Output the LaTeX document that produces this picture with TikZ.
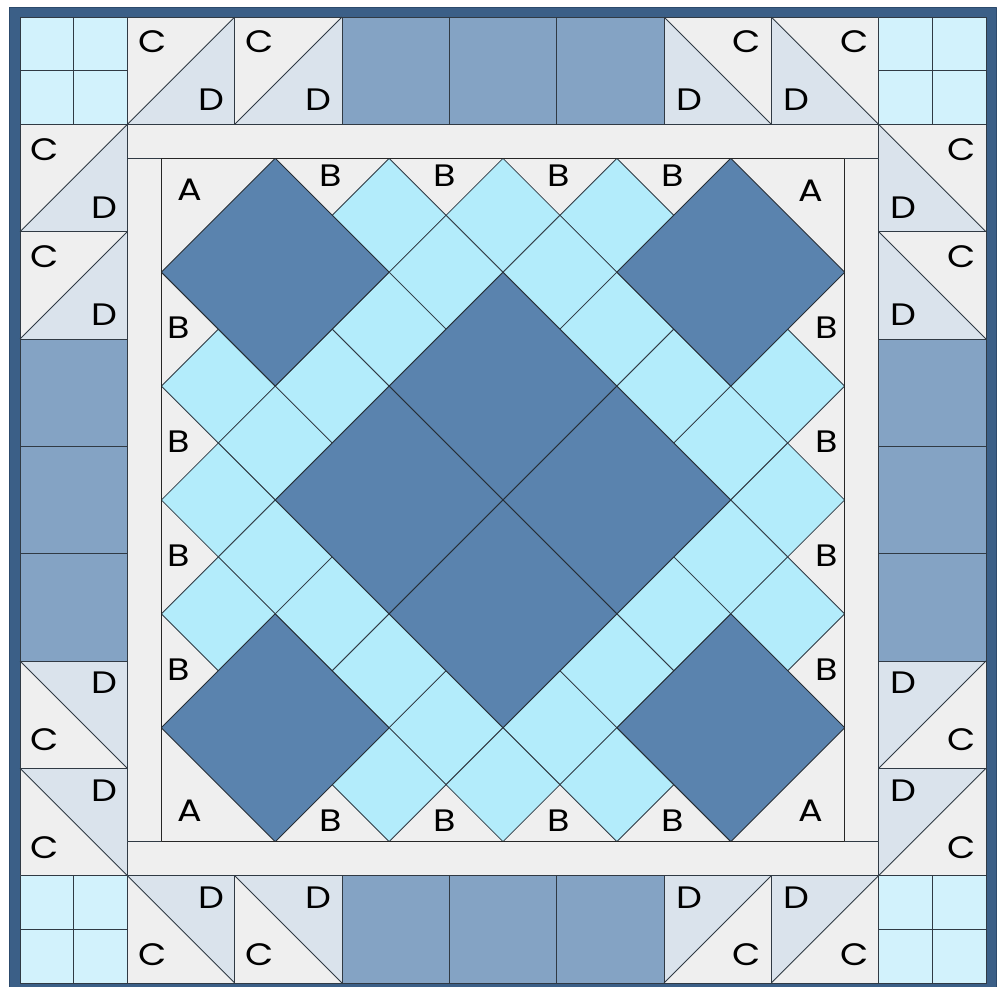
\documentclass[tikz,border=0pt]{standalone}
\usepackage{fontspec}
\newfontfamily\labfont[FakeStretch=1.18]{Poppins}
\definecolor{framec}{HTML}{3B5F87}
\definecolor{framedk}{HTML}{2C4A6C}
\definecolor{bgc}{HTML}{EFEFEF}
\definecolor{dtri}{HTML}{DAE3EC}
\definecolor{rectc}{HTML}{84A3C4}
\definecolor{patchc}{HTML}{D2F2FC}
\definecolor{cyanc}{HTML}{B3ECFB}
\definecolor{darkc}{HTML}{5A83AE}
\definecolor{seamc}{HTML}{303A44}
\tikzset{
  seam/.style={draw=seamc, line width=0.9pt},
  lab/.style={font=\labfont\fontsize{31}{31}\selectfont, text=black, inner sep=0pt},
  smallsq/.style={fill=cyanc, draw=seamc, line width=0.8pt},
  bigsq/.style={fill=darkc, draw=seamc!80!black, line width=0.9pt},
}
\def\sz{107.333}
\begin{document}
\begin{tikzpicture}[x=1pt,y=-1pt,line join=round]
\useasboundingbox (0,0) rectangle (1002,987);
\clip (0,0) rectangle (1002,987);
\fill[white] (0,0) rectangle (1002,987);
% frame
\filldraw[fill=framec, draw=framedk, line width=1pt] (9.5,7.5) rectangle (996,993);
\fill[bgc] (20,17) rectangle (986,983);
% corner four-patches
\foreach \x/\y in {20/17, 878.667/17, 20/875.667, 878.667/875.667}{
  \filldraw[fill=patchc, seam] (\x,\y) rectangle ++(\sz,\sz);
  \draw[seam] (\x+53.667,\y) -- ++(0,\sz);
  \draw[seam] (\x,\y+53.667) -- ++(\sz,0);
}
% plain rectangles
\foreach \k in {0,1,2}{
  \filldraw[fill=rectc, seam] (342+\k*\sz,17) rectangle ++(\sz,\sz);
  \filldraw[fill=rectc, seam] (342+\k*\sz,875.667) rectangle ++(\sz,\sz);
  \filldraw[fill=rectc, seam] (20,339+\k*\sz) rectangle ++(\sz,\sz);
  \filldraw[fill=rectc, seam] (878.667,339+\k*\sz) rectangle ++(\sz,\sz);
}
% HST: D lower-right
\foreach \x/\y [count=\i] in {127.333/17, 234.667/17, 20/124.333, 20/231.667}{
  \fill[bgc] (\x,\y) rectangle ++(\sz,\sz);
  \fill[dtri] (\x,\y+\sz) -- (\x+\sz,\y) -- (\x+\sz,\y+\sz) -- cycle;
  \draw[seam] (\x,\y+\sz) -- (\x+\sz,\y);
  \draw[seam] (\x,\y) rectangle ++(\sz,\sz);
  \node[lab] (cbr\i) at (\x+25,\y+25) {C};
  \node[lab] (dbr\i) at (\x+84,\y+83) {D};
}
% HST: D lower-left
\foreach \x/\y [count=\i] in {664/17, 771.333/17, 878.667/124.333, 878.667/231.667}{
  \fill[bgc] (\x,\y) rectangle ++(\sz,\sz);
  \fill[dtri] (\x,\y) -- (\x+\sz,\y+\sz) -- (\x,\y+\sz) -- cycle;
  \draw[seam] (\x,\y) -- (\x+\sz,\y+\sz);
  \draw[seam] (\x,\y) rectangle ++(\sz,\sz);
  \node[lab] (cbl\i) at (\x+83,\y+25) {C};
  \node[lab] (dbl\i) at (\x+25,\y+83) {D};
}
% HST: D upper-right
\foreach \x/\y [count=\i] in {20/661, 20/768.333, 127.333/875.667, 234.667/875.667}{
  \fill[bgc] (\x,\y) rectangle ++(\sz,\sz);
  \fill[dtri] (\x,\y) -- (\x+\sz,\y) -- (\x+\sz,\y+\sz) -- cycle;
  \draw[seam] (\x,\y) -- (\x+\sz,\y+\sz);
  \draw[seam] (\x,\y) rectangle ++(\sz,\sz);
  \node[lab] (ctr\i) at (\x+25,\y+79) {C};
  \node[lab] (dtr\i) at (\x+84,\y+22) {D};
}
% HST: D upper-left
\foreach \x/\y [count=\i] in {878.667/661, 878.667/768.333, 664/875.667, 771.333/875.667}{
  \fill[bgc] (\x,\y) rectangle ++(\sz,\sz);
  \fill[dtri] (\x,\y) -- (\x+\sz,\y) -- (\x,\y+\sz) -- cycle;
  \draw[seam] (\x,\y+\sz) -- (\x+\sz,\y);
  \draw[seam] (\x,\y) rectangle ++(\sz,\sz);
  \node[lab] (ctl\i) at (\x+83,\y+79) {C};
  \node[lab] (dtl\i) at (\x+25,\y+22) {D};
}
% sashes
\filldraw[fill=bgc, seam] (127.333,124.333) rectangle (878.667,158.333);
\filldraw[fill=bgc, seam] (127.333,841.667) rectangle (878.667,875.667);
\filldraw[fill=bgc, seam] (127.333,158.333) rectangle (161.333,841.667);
\filldraw[fill=bgc, seam] (844.667,158.333) rectangle (878.667,841.667);
% inner square
\fill[bgc] (161.333,158.333) rectangle (844.667,841.667);
\begin{scope}[shift={(161.333,158.333)}, x=56.944pt, y=-56.944pt]
  \foreach \a/\b in {4/1,6/1,8/1,5/2,7/2,4/3,8/3,1/4,3/4,9/4,11/4,2/5,10/5,1/6,11/6,
                     2/7,10/7,1/8,3/8,9/8,11/8,4/9,8/9,5/10,7/10,4/11,6/11,8/11}
    \filldraw[smallsq] (\a,\b-1) -- (\a+1,\b) -- (\a,\b+1) -- (\a-1,\b) -- cycle;
  \foreach \a/\b in {2/2,10/2,2/10,10/10,6/4,4/6,8/6,6/8}
    \filldraw[bigsq] (\a,\b-2) -- (\a+2,\b) -- (\a,\b+2) -- (\a-2,\b) -- cycle;
\end{scope}
\draw[draw=black!85, line width=1.6pt] (161.333,158.333) rectangle (844.667,841.667);
% labels A
\node[lab] (a1) at (190,190) {A};
\node[lab] (a2) at (811,191) {A};
\node[lab] (a3) at (190,811) {A};
\node[lab] (a4) at (811,811) {A};
% labels B
\foreach \k [count=\i] in {3,5,7,9}{
  \node[lab] (bt\i) at (161.333+\k*56.944-1.5,175.5) {B};
  \node[lab] (bb\i) at (161.333+\k*56.944-1.5,821) {B};
  \node[lab] (bl\i) at (179,158.333+\k*56.944-1.5) {B};
  \node[lab] (br\i) at (827,158.333+\k*56.944-1.5) {B};
}
\end{tikzpicture}
\end{document}
